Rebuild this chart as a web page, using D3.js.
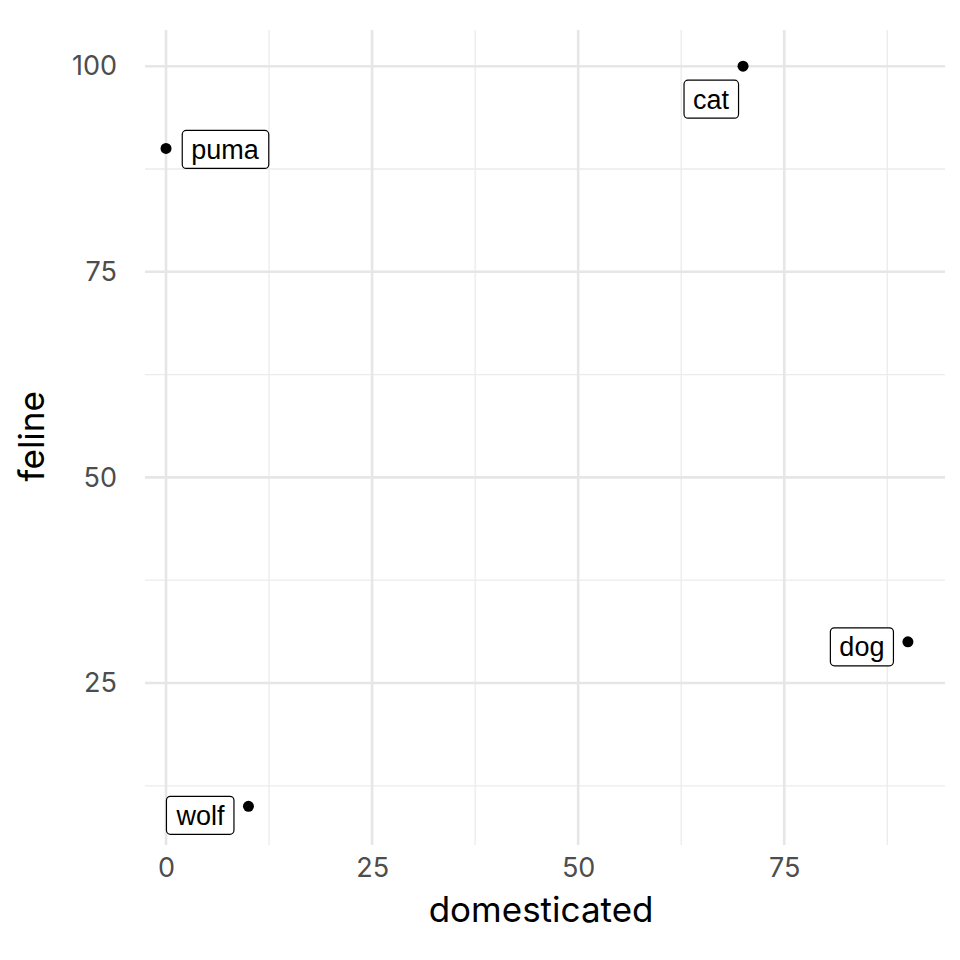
<!DOCTYPE html>
<html>
<head>
<meta charset="utf-8">
<script src="https://cdn.jsdelivr.net/npm/d3@7"></script>
<style>
  body { margin: 0; background: #fff; }
  text { font-family: "Liberation Sans", Arial, sans-serif; }
</style>
</head>
<body>
<div id="chart"></div>
<script>
// Data
const animals = ['puma', 'cat', 'dog', 'wolf'];
const domesticated = [0, 70, 90, 10];
const feline = [90, 100, 30, 10];
const xTicks = [0, 25, 50, 75];
const yTicks = [25, 50, 75, 100];
// label nudges in pixels (repel result)
const labelShift = [[59, 1], [-32, 33], [-46, 5], [-48, 9]];

const width = 960, height = 960;
const margin = {top: 30, right: 15, bottom: 115, left: 145};

const svg = d3.select('#chart').append('svg')
  .attr('width', width).attr('height', height);

const x = d3.scaleLinear().domain([-2.55, 94.5]).range([margin.left, width - margin.right]);
const y = d3.scaleLinear().domain([5.3, 104.4]).range([height - margin.bottom, margin.top]);

const grid = svg.append('g');
const minorX = [12.5, 37.5, 62.5, 87.5];
const minorY = [12.5, 37.5, 62.5, 87.5];
grid.selectAll('.mx').data(minorX).join('line')
  .attr('x1', d => x(d)).attr('x2', d => x(d))
  .attr('y1', margin.top).attr('y2', height - margin.bottom)
  .attr('stroke', '#ebebeb').attr('stroke-width', 1.3);
grid.selectAll('.my').data(minorY).join('line')
  .attr('y1', d => y(d)).attr('y2', d => y(d))
  .attr('x1', margin.left).attr('x2', width - margin.right)
  .attr('stroke', '#ebebeb').attr('stroke-width', 1.3);
grid.selectAll('.gx').data(xTicks).join('line')
  .attr('x1', d => x(d)).attr('x2', d => x(d))
  .attr('y1', margin.top).attr('y2', height - margin.bottom)
  .attr('stroke', '#e6e6e6').attr('stroke-width', 2.6);
grid.selectAll('.gy').data(yTicks).join('line')
  .attr('y1', d => y(d)).attr('y2', d => y(d))
  .attr('x1', margin.left).attr('x2', width - margin.right)
  .attr('stroke', '#e6e6e6').attr('stroke-width', 2.6);

// Axes (labels only)
const xAxisG = svg.append('g')
  .attr('transform', `translate(0,${height - margin.bottom})`)
  .call(d3.axisBottom(x).tickValues(xTicks).tickSize(0).tickPadding(13));
const yAxisG = svg.append('g')
  .attr('transform', `translate(${margin.left},0)`)
  .call(d3.axisLeft(y).tickValues(yTicks).tickSize(0).tickPadding(28));
[xAxisG, yAxisG].forEach(g => {
  g.select('.domain').remove();
  g.selectAll('text').attr('fill', '#4d4d4d').style('font-size', '27px')
    .style('font-family', 'Inter, "DejaVu Sans", sans-serif');
});
yAxisG.selectAll('text').attr('text-anchor', 'end');

svg.append('text').attr('x', x(45.5)).attr('y', 922).attr('text-anchor', 'middle')
  .style('font-size', '35px').style('font-family', 'Inter, "DejaVu Sans", sans-serif')
  .text('domesticated');
svg.append('text').attr('transform', `translate(44,${y(55)}) rotate(-90)`)
  .attr('text-anchor', 'middle')
  .style('font-size', '35px').style('font-family', 'Inter, "DejaVu Sans", sans-serif')
  .text('feline');

// Points
const data = animals.map((a, i) => ({name: a, x: domesticated[i], y: feline[i], s: labelShift[i]}));
svg.selectAll('circle').data(data).join('circle')
  .attr('cx', d => x(d.x)).attr('cy', d => y(d.y)).attr('r', 5.5).attr('fill', '#000');

// Labels
const lab = svg.selectAll('.lab').data(data).join('g')
  .attr('transform', d => `translate(${x(d.x) + d.s[0]},${y(d.y) + d.s[1]})`);
lab.append('rect');
lab.append('text').attr('text-anchor', 'middle').attr('dy', '0.35em')
  .style('font-size', '27px').text(d => d.name);
lab.each(function() {
  const g = d3.select(this);
  const b = g.select('text').node().getBBox();
  g.select('rect').attr('x', b.x - 9).attr('y', -19).attr('width', b.width + 18).attr('height', 38)
    .attr('rx', 4).attr('fill', '#fff').attr('stroke', '#000').attr('stroke-width', 1.2);
});
</script>
</body>
</html>
